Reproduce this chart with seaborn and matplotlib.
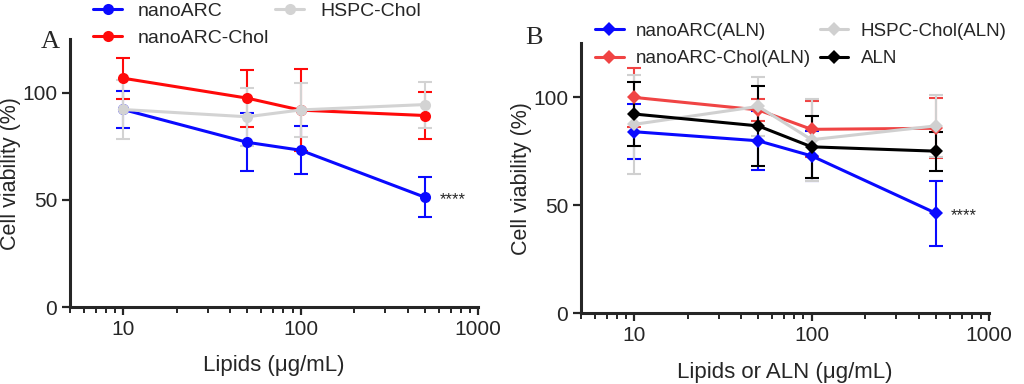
import numpy as np
import pandas as pd
import seaborn as sns
import matplotlib.pyplot as plt

# concentrations (ug/mL)
conc = [10, 50, 100, 500]

# panel A - lipids
a_names = ["nanoARC", "nanoARC-Chol", "HSPC-Chol"]
a_mean = [[92.2, 76.9, 73.2, 51.3],
          [106.8, 97.5, 91.9, 89.4],
          [92.2, 88.8, 92.0, 94.5]]
a_err = [[8.6, 13.6, 11.3, 9.3],
         [9.6, 13.3, 19.0, 10.8],
         [13.7, 13.5, 12.5, 10.7]]
a_colors = ["#0a0aff", "#ff0a0a", "#d3d3d3"]

# panel B - ALN
b_names = ["nanoARC(ALN)", "nanoARC-Chol(ALN)", "HSPC-Chol(ALN)", "ALN"]
b_mean = [[84.1, 79.9, 72.9, 46.4],
          [100.0, 94.2, 85.2, 85.7],
          [87.5, 95.8, 80.4, 86.8],
          [92.3, 86.8, 77.1, 75.1]]
b_err = [[12.8, 13.7, 11.4, 15.0],
         [13.5, 5.0, 13.0, 14.0],
         [23.0, 13.5, 19.0, 14.5],
         [15.0, 18.5, 14.3, 9.0]]
b_colors = ["#0a0aff", "#f04444", "#d0d0d0", "#000000"]

sns.set_style("ticks")
plt.rcParams['font.family'] = ['Liberation Sans', 'DejaVu Sans']

fig = plt.figure(figsize=(10.24, 3.84), dpi=100)
axA = fig.add_axes([0.068, 0.200, 0.399, 0.698])
axB = fig.add_axes([0.567, 0.184, 0.399, 0.703])


def panel(ax, names, means, errs, colors, marker, msize, xlabel):
    rows = []
    for n, m in zip(names, means):
        for c, v in zip(conc, m):
            rows.append({"conc": c, "via": v, "group": n})
    df = pd.DataFrame(rows)
    for n, m, e, col in zip(names, means, errs, colors):
        ax.errorbar(conc, m, yerr=e, fmt="none", ecolor=col, elinewidth=1.5,
                    capsize=5, capthick=1.5, zorder=2)
    sns.lineplot(data=df, x="conc", y="via", hue="group", hue_order=names,
                 palette=colors, marker=marker, markersize=msize,
                 markeredgewidth=0, linewidth=2.2, ax=ax, zorder=3)
    ax.set_xscale("log")
    ax.set_xlim(5, 1000)
    ax.set_ylim(0, 125)
    ax.set_yticks([0, 50, 100])
    ax.set_xticks([10, 100, 1000])
    ax.set_xticklabels(["10", "100", "1000"])
    ax.set_xlabel(xlabel, fontsize=16, labelpad=12)
    ax.set_ylabel("Cell viability (%)", fontsize=15.5, labelpad=1)
    ax.tick_params(axis="both", which="major", labelsize=15, width=1.6,
                   length=6, pad=3)
    ax.tick_params(axis="x", which="minor", width=1.4, length=4)
    for s in ["top", "right"]:
        ax.spines[s].set_visible(False)
    for s in ["left", "bottom"]:
        ax.spines[s].set_linewidth(2.2)
    ax.get_legend().remove()
    return ax.get_legend_handles_labels()


hA, lA = panel(axA, a_names, a_mean, a_err, a_colors, "o", 8,
               "Lipids (\u03bcg/mL)")
hB, lB = panel(axB, b_names, b_mean, b_err, b_colors, "D", 7,
               "Lipids or ALN (\u03bcg/mL)")

fig.legend(hA, lA, ncol=2, loc="upper left", bbox_to_anchor=(0.074, 1.04),
           frameon=False, fontsize=14, handlelength=1.5, handletextpad=0.8,
           columnspacing=0.3, labelspacing=0.5)
fig.legend(hB, lB, ncol=2, loc="upper left", bbox_to_anchor=(0.565, 0.985),
           frameon=False, fontsize=13.5, handlelength=1.5, handletextpad=0.65,
           columnspacing=0.5, labelspacing=0.55)

fig.text(0.049, 0.89, "A", family="Liberation Serif", fontsize=19,
         ha="center", va="center")
fig.text(0.521, 0.90, "B", family="Liberation Serif", fontsize=19,
         ha="center", va="center")

axA.annotate("****", xy=(500, 51.3), xytext=(11, -2), textcoords="offset points",
             fontsize=12, va="center")
axB.annotate("****", xy=(500, 46.4), xytext=(11, -2), textcoords="offset points",
             fontsize=12, va="center")

fig.savefig("out.png", dpi=100)
